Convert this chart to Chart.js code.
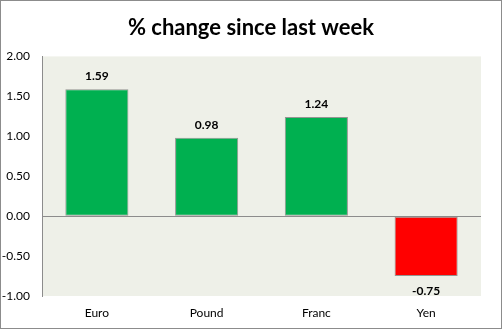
<!DOCTYPE html>
<html>
<head>
<meta charset="utf-8">
<script src="https://cdn.jsdelivr.net/npm/chart.js@4/dist/chart.umd.min.js"></script>
<style>
  html, body { margin: 0; padding: 0; background: #fff; }
  #wrap { width: 502px; height: 329px; position: relative; }
</style>
</head>
<body>
<div id="wrap"><canvas id="chart" width="502" height="329"></canvas></div>
<script>
  // weekly currency moves, in percent
  var currencies = ["Euro", "Pound", "Franc", "Yen"];
  var changes = [1.59, 0.98, 1.24, -0.75];
  var barColors = ["#00B050", "#00B050", "#00B050", "#FF0000"];
  var yMin = -1, yMax = 2, yStep = 0.5;

  var FONT = "Lato, 'Open Sans', sans-serif";
  var AXIS_GREY = "#8c8c8c";

  // plot background, outer frame and value labels
  var decor = {
    id: "decor",
    beforeDraw: function (chart) {
      var ctx = chart.ctx, a = chart.chartArea;
      ctx.save();
      ctx.fillStyle = "#eef0e8";
      ctx.fillRect(a.left, a.top, a.right - a.left, a.bottom - a.top);
      ctx.restore();
    },
    afterDraw: function (chart) {
      var ctx = chart.ctx;
      ctx.save();
      ctx.strokeStyle = AXIS_GREY;
      ctx.lineWidth = 1;
      ctx.strokeRect(0.5, 0.5, chart.width - 1, chart.height - 1);
      ctx.font = "bold 12px " + FONT;
      ctx.fillStyle = "#000";
      ctx.textAlign = "center";
      ctx.textBaseline = "middle";
      chart.getDatasetMeta(0).data.forEach(function (bar, i) {
        var v = changes[i];
        var y = v >= 0 ? bar.y - 13 : bar.y + 15;
        ctx.fillText(v.toFixed(2), bar.x, y);
      });
      ctx.restore();
    }
  };

  new Chart(document.getElementById("chart"), {
    type: "bar",
    data: {
      labels: currencies,
      datasets: [{
        data: changes,
        backgroundColor: barColors,
        borderColor: "rgba(110,110,110,0.7)",
        borderWidth: 1,
        borderSkipped: false,
        categoryPercentage: 1,
        barPercentage: 0.575
      }]
    },
    options: {
      responsive: false,
      animation: false,
      layout: { padding: 0 },
      plugins: {
        legend: { display: false },
        tooltip: { enabled: false },
        title: {
          display: true,
          text: "% change since last week",
          color: "#000",
          font: { family: FONT, size: 22, weight: "bold" },
          padding: { top: 15, bottom: 15 }
        }
      },
      scales: {
        x: {
          grid: { display: false, drawTicks: false },
          border: { display: false },
          ticks: { color: "#000", padding: 10, font: { family: FONT, size: 12 } },
          afterFit: function (s) { s.height = 33; }
        },
        y: {
          min: yMin,
          max: yMax,
          grid: {
            drawTicks: false,
            color: function (c) { return c.tick && c.tick.value === 0 ? AXIS_GREY : "rgba(0,0,0,0)"; }
          },
          border: { display: true, color: AXIS_GREY, width: 1 },
          ticks: {
            stepSize: yStep,
            color: "#000",
            padding: 12,
            font: { family: FONT, size: 12 },
            callback: function (v) { return Number(v).toFixed(2); }
          },
          afterFit: function (s) { s.width = 42; }
        },
        // empty right margin so the plot ends short of the frame
        gap: {
          position: "right",
          min: yMin,
          max: yMax,
          grid: { display: false, drawTicks: false },
          border: { display: false },
          ticks: { display: false },
          afterFit: function (s) { s.width = 21; }
        }
      }
    },
    plugins: [decor]
  });
</script>
</body>
</html>
